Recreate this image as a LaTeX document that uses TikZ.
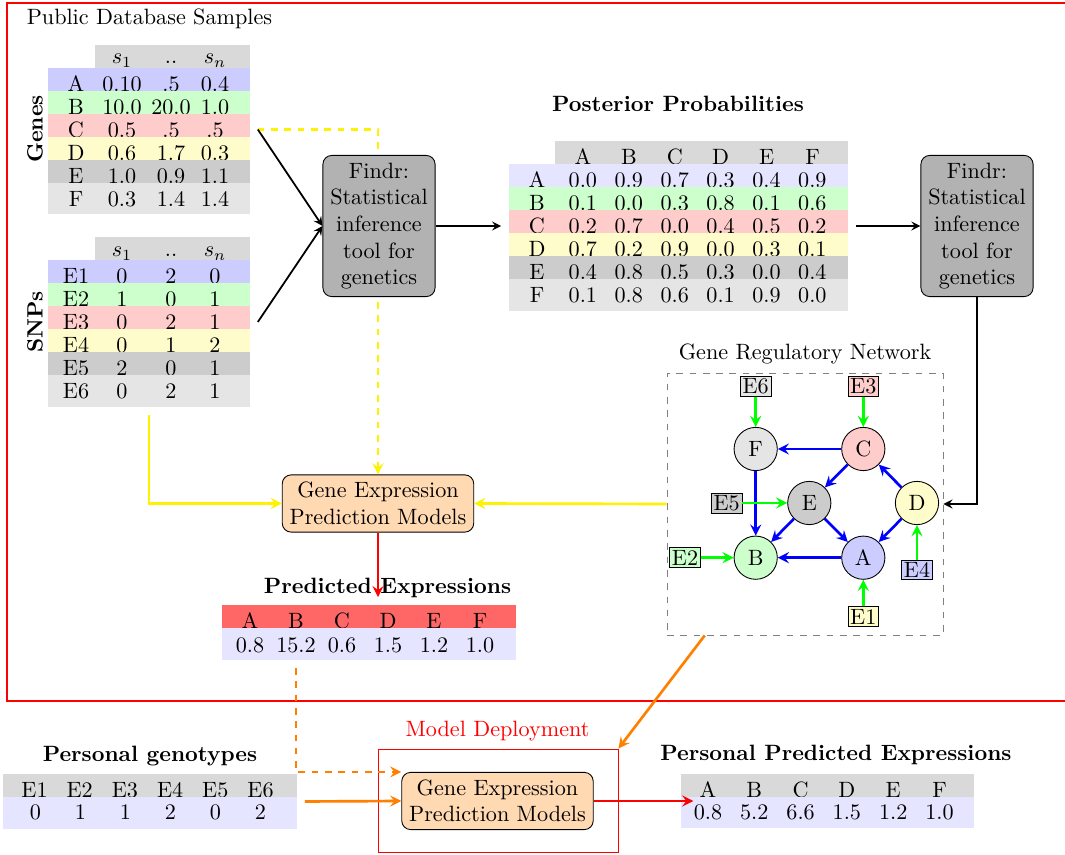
\documentclass[tikz,border=0pt]{standalone}
\usetikzlibrary{fit}
\begin{document}
\begin{tikzpicture}[
        x=0.01585cm, y=-0.01585cm,
        cell/.style={anchor=base, inner sep=0pt},
        title/.style={anchor=base, font=\bfseries},
        hdr/.style={fill=gray!30},
        tab/.style={inner sep=0.3333em},
        tool/.style={draw, fill=gray!60, rounded corners, align=center},
        model/.style={draw, fill=orange!30, rounded corners, align=center},
        gene/.style={draw, circle, minimum size=19.5pt, inner sep=0pt},
        snp/.style={draw, inner sep=1pt},
        reg/.style={->, very thick, blue},
        eqtl/.style={->, very thick, green},
        flow/.style={->, very thick},
        >=stealth
    ]
        \useasboundingbox (0,0) rectangle (1065,855);

        % Public data frame
        \node[draw=red, semithick, fit={(7,3) (1075,701)}, inner sep=0pt] (public) {};
        \node[anchor=base west] (publab) at (19,25) {Public Database Samples};

        % Genes table
        \fill[gray!20] (48,206) rectangle (250,214);
        \fill[hdr] (95,45) rectangle (250,68);
        \foreach \t/\x [count=\c] in {$s_1$/122, ../171, $s_n$/215}
            \node[cell] (gh-\c) at (\x,64) {\t};
        \foreach \lab/\va/\vb/\vn/\col [count=\r] in {A/0.10/.5/0.4/blue!20, B/10.0/20.0/1.0/green!20,
                C/0.5/.5/.5/red!20, D/0.6/1.7/0.3/yellow!20, E/1.0/0.9/1.1/gray!40, F/0.3/1.4/1.4/gray!20} {
            \fill[\col] (48,45+23*\r) rectangle (250,68+23*\r);
            \foreach \t/\x [count=\c] in {\lab/76, \va/122, \vb/171, \vn/215}
                \node[cell] (g-\r-\c) at (\x,69+23*\r) {\t};
        }
        \node[tab, fit={(48,45) (250,214)}] (genes) {};
        \node[rotate=90, font=\bfseries] (genlab) at (35,129) {Genes};

        % SNPs table
        \fill[gray!20] (48,398) rectangle (250,407);
        \fill[hdr] (95,237) rectangle (250,260);
        \foreach \t/\x [count=\c] in {$s_1$/122, ../171, $s_n$/215}
            \node[cell] (sh-\c) at (\x,257) {\t};
        \foreach \lab/\va/\vb/\vn/\col [count=\r] in {E1/0/2/0/blue!20, E2/1/0/1/green!20,
                E3/0/2/1/red!20, E4/0/1/2/yellow!20, E5/2/0/1/gray!40, E6/0/2/1/gray!20} {
            \fill[\col] (48,237+23*\r) rectangle (250,260+23*\r);
            \foreach \t/\x [count=\c] in {\lab/76, \va/122, \vb/171, \vn/215}
                \node[cell] (s-\r-\c) at (\x,261+23*\r) {\t};
        }
        \node[tab, fit={(48,237) (250,407)}] (snps) {};
        \node[rotate=90, font=\bfseries] (snplab) at (35,322) {SNPs};

        % Posterior probabilities
        \node[title] (posttitle) at (678,111.7) {Posterior Probabilities};
        \fill[gray!20] (509,302) rectangle (848,311);
        \fill[hdr] (555,141) rectangle (848,164);
        \foreach \t [count=\c] in {A,B,C,D,E,F}
            \node[cell] (ph-\c) at ({583+45.9*(\c-1)},165) {\t};
        \foreach \lab/\pa/\pb/\pc/\pd/\pe/\pf/\col [count=\r] in {
                A/0.0/0.9/0.7/0.3/0.4/0.9/blue!10, B/0.1/0.0/0.3/0.8/0.1/0.6/green!20,
                C/0.2/0.7/0.0/0.4/0.5/0.2/red!20, D/0.7/0.2/0.9/0.0/0.3/0.1/yellow!20,
                E/0.4/0.8/0.5/0.3/0.0/0.4/gray!40, F/0.1/0.8/0.6/0.1/0.9/0.0/gray!20} {
            \fill[\col] (509,141+23*\r) rectangle (848,164+23*\r);
            \foreach \t [count=\c] in {\lab,\pa,\pb,\pc,\pd,\pe,\pf}
                \node[cell] (p-\r-\c) at ({537+45.9*(\c-1)},165+23*\r) {\t};
        }
        \node[tab, fit={(509,141) (848,311)}] (post) {};

        % Predicted expressions
        \node[title] (predtitle) at (387.5,593.3) {Predicted Expressions};
        \fill[red!60] (222,605) rectangle (516,628);
        \foreach \t [count=\c] in {A,B,C,D,E,F}
            \node[cell] (eh-\c) at ({250+46*(\c-1)},629) {\t};
        \fill[blue!10] (222,628) rectangle (516,660);
        \foreach \t [count=\c] in {0.8,15.2,0.6,1.5,1.2,1.0}
            \node[cell] (ev-\c) at ({250+46*(\c-1)},653) {\t};
        \node[tab, fit={(222,605) (516,660)}] (pred) {};

        % Personal genotypes
        \node[title] (genotitle) at (150,761.7) {Personal genotypes};
        \fill[hdr] (3,774) rectangle (297,797);
        \foreach \t [count=\c] in {E1,E2,E3,E4,E5,E6}
            \node[cell] (nh-\c) at ({34.5+45.2*(\c-1)},798) {\t};
        \fill[blue!10] (3,797) rectangle (297,829);
        \foreach \t [count=\c] in {0,1,1,2,0,2}
            \node[cell] (nv-\c) at ({35.5+45*(\c-1)},820) {\t};
        \node[tab, fit={(3,774) (297,829)}] (geno) {};

        % Personal predicted expressions
        \node[title] (ppetitle) at (836,760.7) {Personal Predicted Expressions};
        \fill[hdr] (681,774) rectangle (974,797);
        \foreach \t [count=\c] in {A,B,C,D,E,F}
            \node[cell] (ph2-\c) at ({708+46.3*(\c-1)},798) {\t};
        \fill[blue!10] (681,797) rectangle (974,828);
        \foreach \t [count=\c] in {0.8,5.2,6.6,1.5,1.2,1.0}
            \node[cell] (pv-\c) at ({708+46.3*(\c-1)},820) {\t};
        \node[tab, fit={(681,774) (974,828)}] (ppe) {};

        % Models and tools
        \node[model] (gepm) at (378,503.5) {Gene Expression\\Prediction Models};
        \draw[flow, yellow, dashed] (genes.east) -| (gepm.north);
        \node[tool] (findr) at (379,226) {Findr:\\Statistical\\inference\\tool for\\genetics};
        \node[tool] (findr2) at (977,226) {Findr:\\Statistical\\inference\\tool for\\genetics};

        % Gene regulatory network
        \node[draw=gray, dashed, fit={(667,373) (943,635)}, inner sep=0pt] (grn) {};
        \node[anchor=base] (grnlab) at (805,360) {Gene Regulatory Network};
        \node[gene, fill=gray!20] (F) at (755.7,449) {F};
        \node[gene, fill=red!20] (C) at (863.3,449) {C};
        \node[gene, fill=gray!40] (E) at (809.3,503) {E};
        \node[gene, fill=yellow!20] (D) at (917,503) {D};
        \node[gene, fill=green!20] (B) at (755.7,557.7) {B};
        \node[gene, fill=blue!20] (A) at (863.3,557.7) {A};
        \node[snp, fill=gray!20] (E6) at (755.7,386.7) {E6};
        \node[snp, fill=red!20] (E3) at (863.3,386.7) {E3};
        \node[snp, fill=gray!40] (E5) at (726.7,503) {E5};
        \node[snp, fill=green!20] (E2) at (685,557.7) {E2};
        \node[snp, fill=blue!20] (E4) at (917,570) {E4};
        \node[snp, fill=yellow!20] (E1) at (863.3,616.7) {E1};
        \foreach \a/\b in {C/F, C/E, D/C, D/A, E/B, E/A, F/B, A/B}
            \draw[reg] (\a) -- (\b);
        \foreach \a/\b in {E6/F, E3/C, E5/E, E2/B, E4/D, E1/A}
            \draw[eqtl] (\a) -- (\b);

        % Inference path
        \draw[->, thick] (genes.east) -- (findr.west);
        \draw[->, thick] (snps.east) -- (findr.west);
        \draw[->, thick] (findr.east) -- (post.west);
        \draw[->, thick] (post.east) -- (findr2.west);
        \draw[->, thick] (findr2.south) |- (grn.east);

        % Model training
        \draw[flow, yellow] (snps.south) |- (gepm.west);
        \draw[flow, yellow] (grn.west) -- (gepm.east);
        \draw[flow, red] (gepm.south) -- (gepm.south |- pred.north);

        % Model deployment
        \node[draw=red, fit={(378,749) (618,852)}, inner sep=0pt] (deploy) {};
        \node[anchor=base, red] (deplab) at (497.5,736.7) {Model Deployment};
        \node[model] (dgepm) at (497.5,801) {Gene Expression\\Prediction Models};
        \coordinate (tap) at (296,668);
        \draw[flow, orange, dashed] (tap) |- (dgepm.north west);
        \draw[flow, orange] (geno.east) -- (dgepm.west);
        \draw[flow, orange] (grn) -- (deploy.north east);
        \draw[flow, red] (dgepm.east) -- (dgepm.east -| pv-1.west);
    \end{tikzpicture}
\end{document}
